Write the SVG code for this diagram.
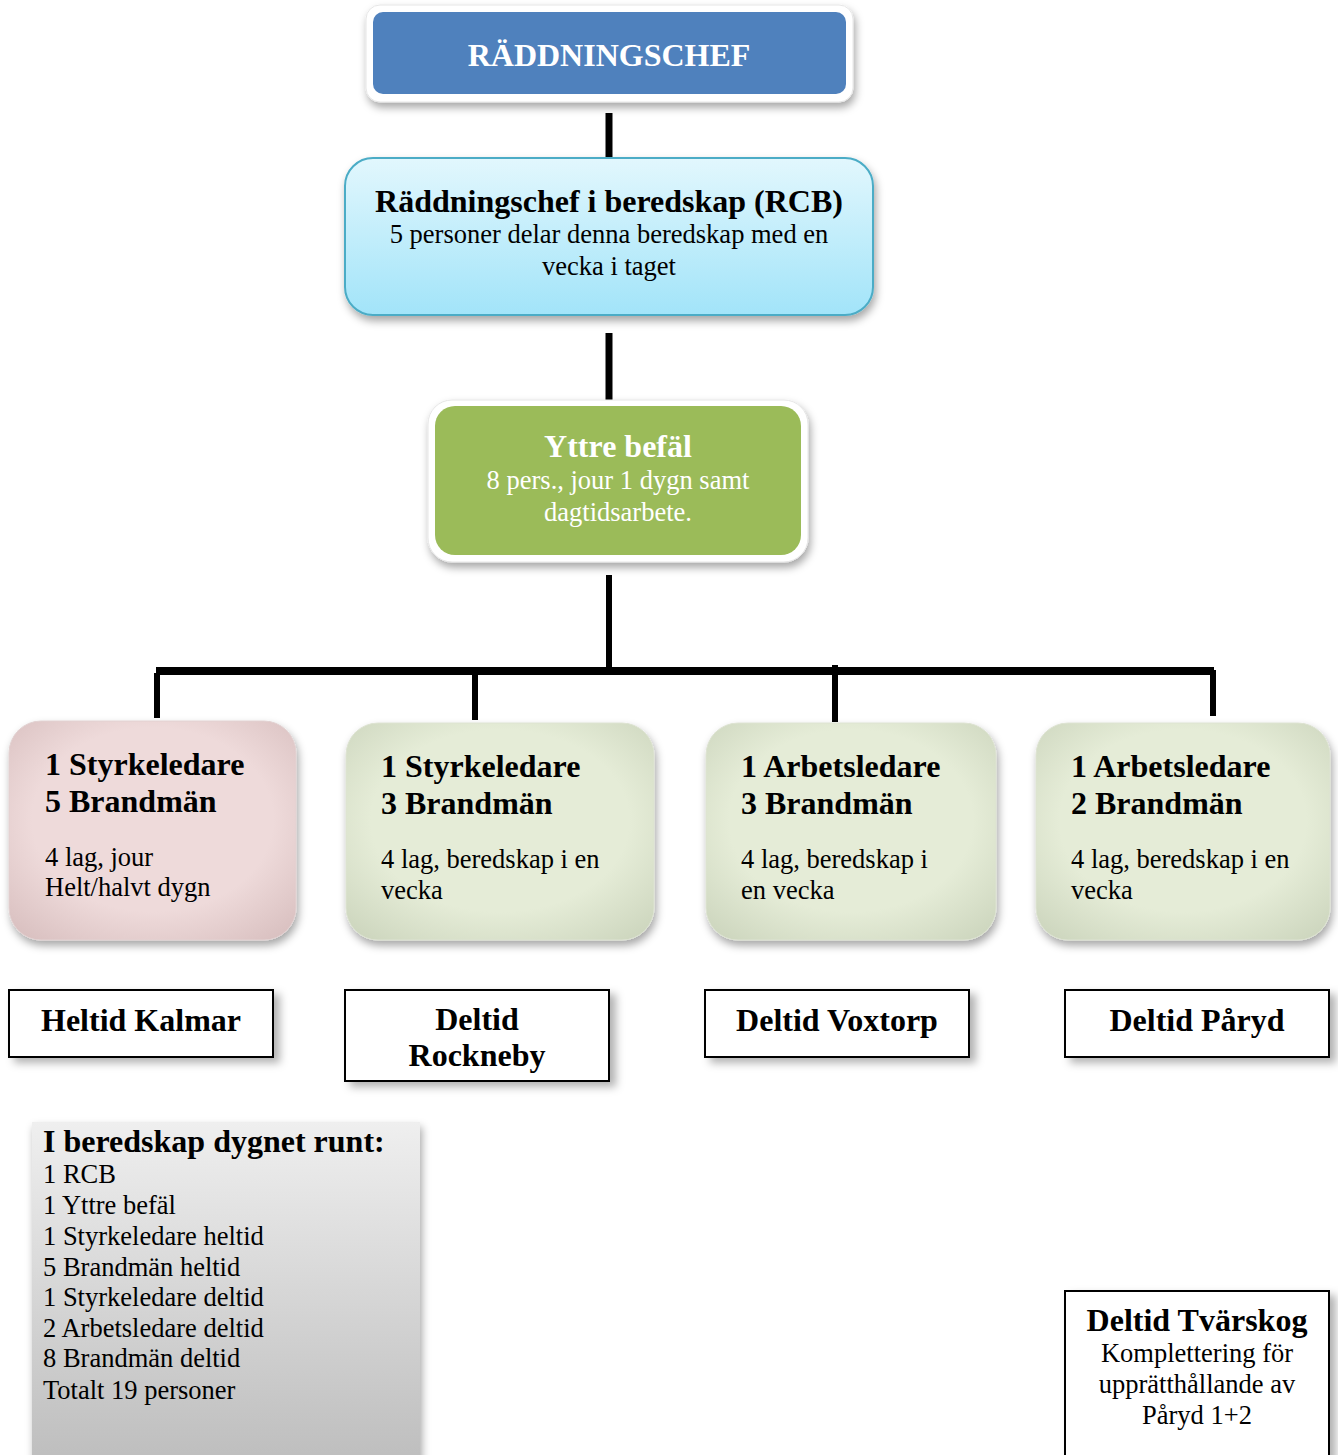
<svg xmlns="http://www.w3.org/2000/svg" width="1338" height="1455" viewBox="0 0 1338 1455">
<style>
.serif{font-family:"Liberation Serif","Times New Roman",serif;}
.b{font-weight:bold;}
.t30{font-size:32px;}
.t24{font-size:26.5px;}
.wh{fill:#ffffff;}
.bk{fill:#000000;}
.lbl{fill:#ffffff;stroke:#000000;stroke-width:2;}
.conn{stroke:#000000;fill:none;}
</style>
<defs>
<filter id="sh" x="-10%" y="-10%" width="125%" height="130%">
<feDropShadow dx="2" dy="5" stdDeviation="4" flood-color="#000000" flood-opacity="0.35"/>
</filter>
<filter id="sh2" x="-10%" y="-10%" width="130%" height="140%">
<feDropShadow dx="6" dy="5" stdDeviation="4" flood-color="#000000" flood-opacity="0.3"/>
</filter>
<linearGradient id="cyan" x1="0" y1="0" x2="0" y2="1">
<stop offset="0" stop-color="#E2F7FD"/>
<stop offset="1" stop-color="#A2E4F9"/>
</linearGradient>
<linearGradient id="gray" x1="0" y1="0" x2="0" y2="1">
<stop offset="0" stop-color="#EFEFEF"/>
<stop offset="1" stop-color="#BDBDBD"/>
</linearGradient>
<radialGradient id="pink" cx="0.5" cy="0.45" r="0.7">
<stop offset="0.6" stop-color="#EEDADA"/>
<stop offset="1" stop-color="#D9C0C0"/>
</radialGradient>
<radialGradient id="lgreen" cx="0.5" cy="0.45" r="0.7">
<stop offset="0.6" stop-color="#E5ECD7"/>
<stop offset="1" stop-color="#CDD6BE"/>
</radialGradient>
</defs>

<g id="connectors">
<line class="conn" x1="609" y1="113" x2="609" y2="158" stroke-width="7"/>
<line class="conn" x1="609" y1="333" x2="609" y2="401" stroke-width="7"/>
<line class="conn" x1="609" y1="575" x2="609" y2="667" stroke-width="6"/>
<line class="conn" x1="156" y1="671" x2="1214" y2="671" stroke-width="8"/>
<line class="conn" x1="157" y1="673" x2="157" y2="718" stroke-width="6"/>
<line class="conn" x1="475" y1="675" x2="475" y2="720" stroke-width="6"/>
<line class="conn" x1="835" y1="665" x2="835" y2="722" stroke-width="6"/>
<line class="conn" x1="1213" y1="670" x2="1213" y2="716" stroke-width="6"/>
</g>

<g id="raddningschef">
<rect x="366" y="5" width="487" height="97" rx="14" fill="#ffffff" stroke="#e6e6e6" stroke-width="1" filter="url(#sh)"/>
<rect x="373" y="12" width="473" height="82" rx="10" fill="#4F81BD"/>
<text class="serif b wh t30" x="609" y="66" text-anchor="middle">RÄDDNINGSCHEF</text>
</g>

<g id="rcb">
<rect x="345" y="158" width="528" height="157" rx="28" fill="url(#cyan)" stroke="#4BACC6" stroke-width="2" filter="url(#sh)"/>
<text class="serif b bk t30" x="609" y="212" text-anchor="middle">Räddningschef i beredskap (RCB)</text>
<text class="serif bk t24" x="609" y="243" text-anchor="middle">5 personer delar denna beredskap med en</text>
<text class="serif bk t24" x="609" y="275" text-anchor="middle">vecka i taget</text>
</g>

<g id="yttre">
<rect x="428" y="400" width="380" height="162" rx="24" fill="#ffffff" stroke="#e6e6e6" stroke-width="1" filter="url(#sh)"/>
<rect x="435" y="406" width="366" height="149" rx="20" fill="#9BBB59"/>
<text class="serif b wh t30" x="618" y="457" text-anchor="middle">Yttre befäl</text>
<text class="serif wh t24" x="618" y="489" text-anchor="middle">8 pers., jour 1 dygn samt</text>
<text class="serif wh t24" x="618" y="521" text-anchor="middle">dagtidsarbete.</text>
</g>

<g id="kalmar-team">
<rect x="9" y="721" width="287" height="219" rx="32" fill="url(#pink)" stroke="#e2d2d2" stroke-width="1" filter="url(#sh)"/>
<text class="serif b bk t30" x="45" y="775">1 Styrkeledare</text>
<text class="serif b bk t30" x="45" y="812">5 Brandmän</text>
<text class="serif bk t24" x="45" y="866">4 lag, jour</text>
<text class="serif bk t24" x="45" y="896">Helt/halvt dygn</text>
</g>

<g id="rockneby-team">
<rect x="346" y="723" width="308" height="217" rx="32" fill="url(#lgreen)" stroke="#dde3d2" stroke-width="1" filter="url(#sh)"/>
<text class="serif b bk t30" x="381" y="777">1 Styrkeledare</text>
<text class="serif b bk t30" x="381" y="814">3 Brandmän</text>
<text class="serif bk t24" x="381" y="868">4 lag, beredskap i en</text>
<text class="serif bk t24" x="381" y="899">vecka</text>
</g>

<g id="voxtorp-team">
<rect x="706" y="723" width="290" height="217" rx="32" fill="url(#lgreen)" stroke="#dde3d2" stroke-width="1" filter="url(#sh)"/>
<text class="serif b bk t30" x="741" y="777">1 Arbetsledare</text>
<text class="serif b bk t30" x="741" y="814">3 Brandmän</text>
<text class="serif bk t24" x="741" y="868">4 lag, beredskap i</text>
<text class="serif bk t24" x="741" y="899">en vecka</text>
</g>

<g id="paryd-team">
<rect x="1036" y="723" width="294" height="217" rx="32" fill="url(#lgreen)" stroke="#dde3d2" stroke-width="1" filter="url(#sh)"/>
<text class="serif b bk t30" x="1071" y="777">1 Arbetsledare</text>
<text class="serif b bk t30" x="1071" y="814">2 Brandmän</text>
<text class="serif bk t24" x="1071" y="868">4 lag, beredskap i en</text>
<text class="serif bk t24" x="1071" y="899">vecka</text>
</g>

<g id="heltid-kalmar">
<rect class="lbl" x="9" y="990" width="264" height="67" filter="url(#sh2)"/>
<text class="serif b bk t30" x="141" y="1031" text-anchor="middle">Heltid Kalmar</text>
</g>

<g id="deltid-rockneby">
<rect class="lbl" x="345" y="990" width="264" height="91" filter="url(#sh2)"/>
<text class="serif b bk t30" x="477" y="1030" text-anchor="middle">Deltid</text>
<text class="serif b bk t30" x="477" y="1066" text-anchor="middle">Rockneby</text>
</g>

<g id="deltid-voxtorp">
<rect class="lbl" x="705" y="990" width="264" height="67" filter="url(#sh2)"/>
<text class="serif b bk t30" x="837" y="1031" text-anchor="middle">Deltid Voxtorp</text>
</g>

<g id="deltid-paryd">
<rect class="lbl" x="1065" y="990" width="264" height="67" filter="url(#sh2)"/>
<text class="serif b bk t30" x="1197" y="1031" text-anchor="middle">Deltid Påryd</text>
</g>

<g id="summary">
<rect x="32" y="1122" width="388" height="345" fill="url(#gray)" filter="url(#sh)"/>
<text class="serif b bk t30" x="43" y="1152">I beredskap dygnet runt:</text>
<text class="serif bk t24" x="43" y="1183">1 RCB</text>
<text class="serif bk t24" x="43" y="1214">1 Yttre befäl</text>
<text class="serif bk t24" x="43" y="1245">1 Styrkeledare heltid</text>
<text class="serif bk t24" x="43" y="1276">5 Brandmän heltid</text>
<text class="serif bk t24" x="43" y="1306">1 Styrkeledare deltid</text>
<text class="serif bk t24" x="43" y="1337">2 Arbetsledare deltid</text>
<text class="serif bk t24" x="43" y="1367">8 Brandmän deltid</text>
<text class="serif bk t24" x="43" y="1399">Totalt 19 personer</text>
</g>

<g id="deltid-tvarskog">
<rect class="lbl" x="1065" y="1291" width="264" height="180" filter="url(#sh2)"/>
<text class="serif b bk t30" x="1197" y="1331" text-anchor="middle">Deltid Tvärskog</text>
<text class="serif bk t24" x="1197" y="1362" text-anchor="middle">Komplettering för</text>
<text class="serif bk t24" x="1197" y="1393" text-anchor="middle">upprätthållande av</text>
<text class="serif bk t24" x="1197" y="1424" text-anchor="middle">Påryd 1+2</text>
</g>
</svg>
